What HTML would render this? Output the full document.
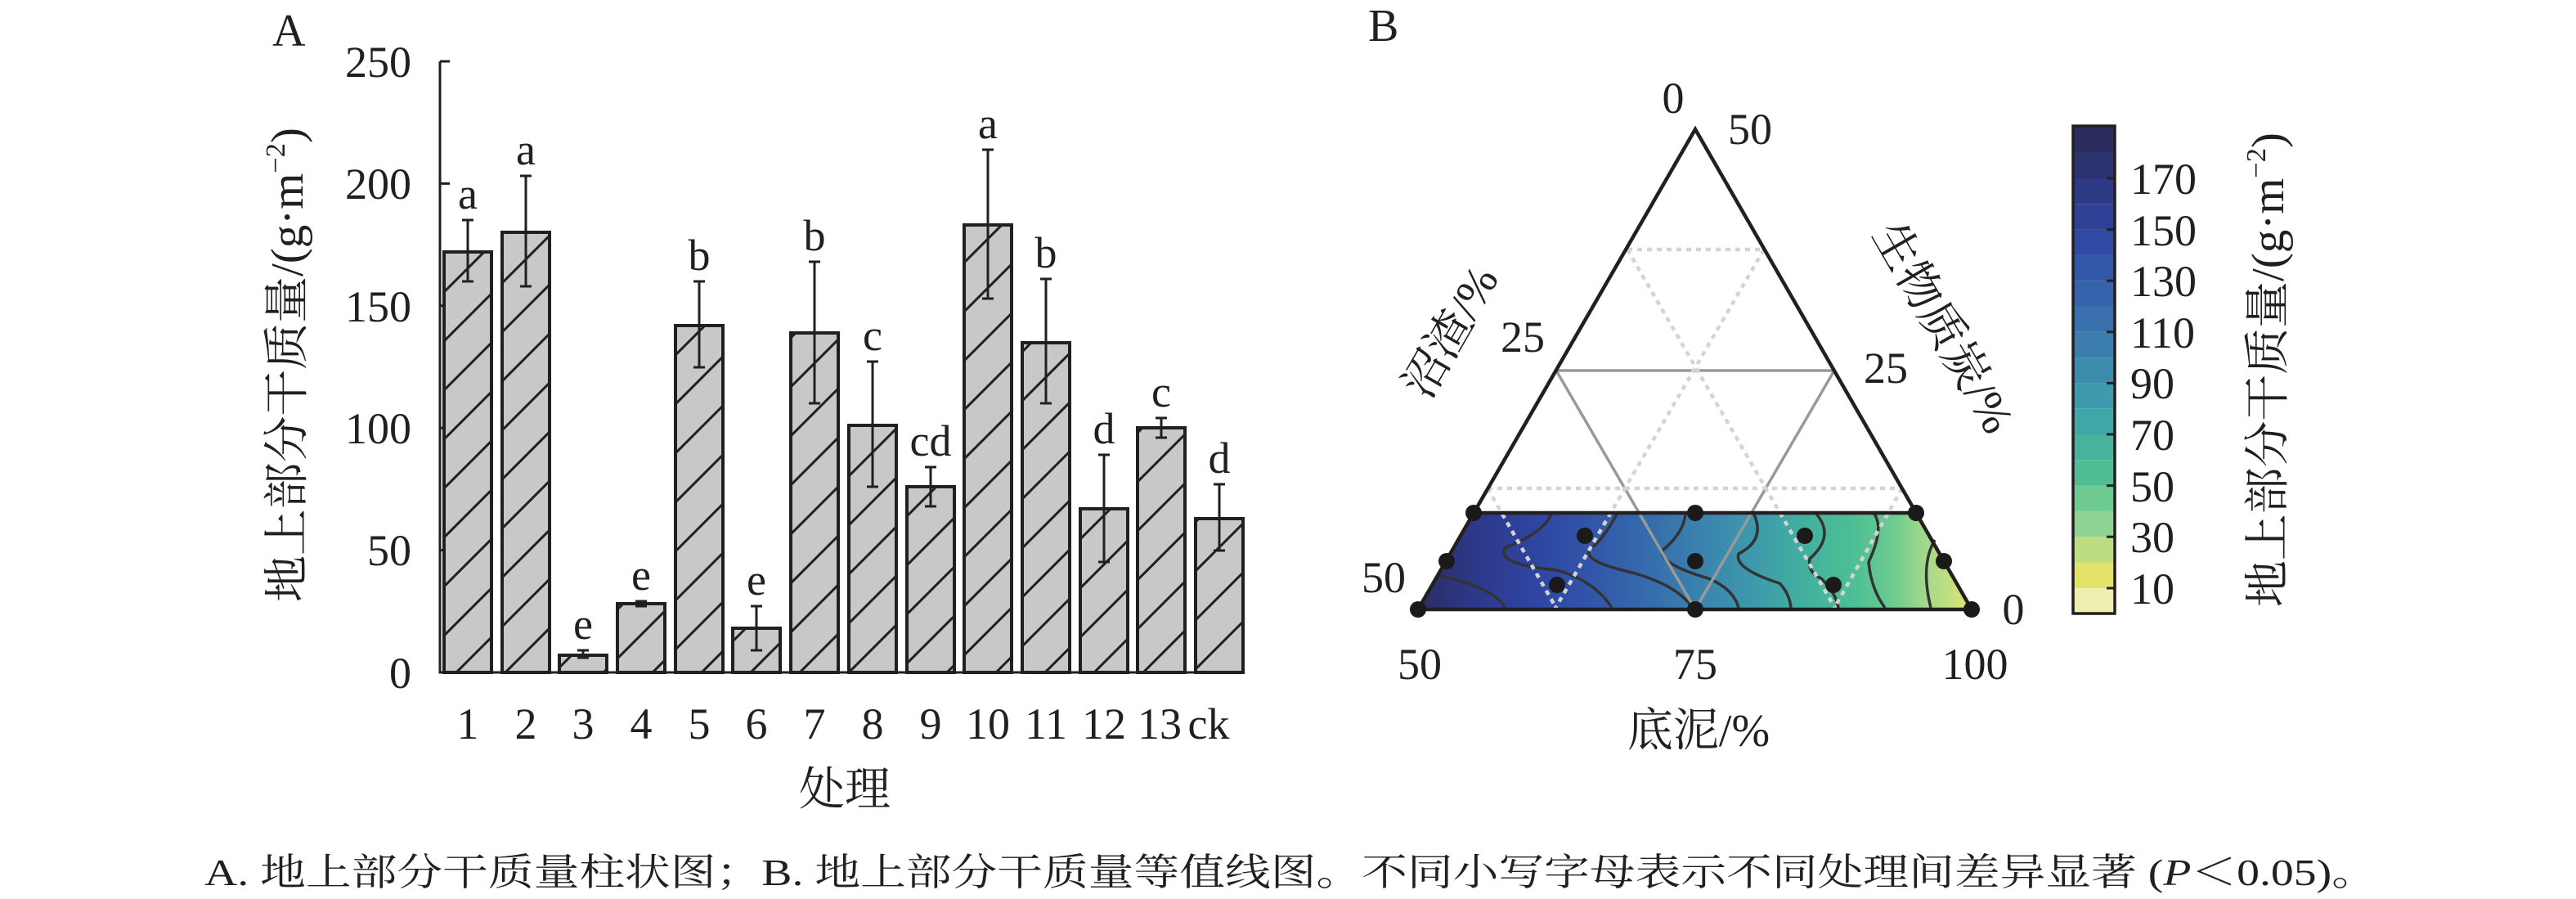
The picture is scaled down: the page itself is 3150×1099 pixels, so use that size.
<!DOCTYPE html>
<html><head><meta charset="utf-8"><style>
html,body{margin:0;padding:0;background:#fff}
svg{display:block}
text{font-family:"Liberation Serif","Noto Serif CJK SC",serif;fill:#231f20}
</style></head><body>
<svg width="3150" height="1099" viewBox="0 0 3150 1099" xmlns="http://www.w3.org/2000/svg">
<defs>
<pattern id="h" patternUnits="userSpaceOnUse" width="60" height="60">
<rect width="60" height="60" fill="#c8c8c8"/>
<path d="M0,60 L60,0 M-10,10 L10,-10 M50,70 L70,50" stroke="#231f20" stroke-width="3"/>
</pattern>
<linearGradient id="cg" x1="1734" y1="0" x2="2411" y2="0" gradientUnits="userSpaceOnUse">
<stop offset="0" stop-color="#2a2d60"/>
<stop offset="0.1" stop-color="#2d3887"/>
<stop offset="0.2" stop-color="#2e43a0"/>
<stop offset="0.32" stop-color="#3257a9"/>
<stop offset="0.43" stop-color="#366fac"/>
<stop offset="0.52" stop-color="#3b85ae"/>
<stop offset="0.61" stop-color="#3e9aab"/>
<stop offset="0.7" stop-color="#43b09f"/>
<stop offset="0.79" stop-color="#4ec093"/>
<stop offset="0.86" stop-color="#6fcb90"/>
<stop offset="0.92" stop-color="#a6d98a"/>
<stop offset="0.97" stop-color="#c9e07e"/>
<stop offset="1" stop-color="#e5e36a"/>
</linearGradient>
</defs>

<!-- Panel A -->
<text x="333" y="56" font-size="56">A</text>
<g stroke="#231f20" stroke-width="3" fill="none">
<path d="M538,75 L538,822 L1521,822"/>
<path d="M538,75 h12 M538,224.4 h12 M538,373.8 h12 M538,523.2 h12 M538,672.6 h12"/>
</g>
<g font-size="54" text-anchor="end">
<text x="503" y="94">250</text>
<text x="503" y="243">200</text>
<text x="503" y="393">150</text>
<text x="503" y="542">100</text>
<text x="503" y="691">50</text>
<text x="503" y="841">0</text>
</g>
<text transform="translate(370,446) rotate(-90)" font-size="56" text-anchor="middle" textLength="580" lengthAdjust="spacingAndGlyphs">地上部分干质量/(g·m<tspan font-size="34" dy="-22">−2</tspan><tspan dy="22">)</tspan></text>

<g stroke="#231f20" stroke-width="4" fill="url(#h)">
<rect x="543" y="308" width="58" height="514"/>
<rect x="614" y="284" width="58" height="538"/>
<rect x="684" y="801" width="58" height="21"/>
<rect x="755" y="738" width="58" height="84"/>
<rect x="826" y="398" width="58" height="424"/>
<rect x="896" y="768" width="58" height="54"/>
<rect x="967" y="407" width="58" height="415"/>
<rect x="1038" y="520" width="58" height="302"/>
<rect x="1109" y="595" width="58" height="227"/>
<rect x="1179" y="275" width="58" height="547"/>
<rect x="1250" y="419" width="58" height="403"/>
<rect x="1321" y="622" width="58" height="200"/>
<rect x="1391" y="523" width="58" height="299"/>
<rect x="1462" y="634" width="58" height="188"/>
</g>
<g stroke="#231f20" stroke-width="3" fill="none">
<path d="M572,269 V344 M565,269 h14 M565,344 h14"/>
<path d="M643,215 V350 M636,215 h14 M636,350 h14"/>
<path d="M713,795 V804 M706,795 h14 M706,804 h14"/>
<path d="M784,735 V741 M777,735 h14 M777,741 h14"/>
<path d="M855,344 V449 M848,344 h14 M848,449 h14"/>
<path d="M925,741 V795 M918,741 h14 M918,795 h14"/>
<path d="M996,320 V493 M989,320 h14 M989,493 h14"/>
<path d="M1067,442 V595 M1060,442 h14 M1060,595 h14"/>
<path d="M1138,571 V619 M1131,571 h14 M1131,619 h14"/>
<path d="M1208,183 V365 M1201,183 h14 M1201,365 h14"/>
<path d="M1279,341 V493 M1272,341 h14 M1272,493 h14"/>
<path d="M1350,556 V687 M1343,556 h14 M1343,687 h14"/>
<path d="M1420,511 V535 M1413,511 h14 M1413,535 h14"/>
<path d="M1491,592 V673 M1484,592 h14 M1484,673 h14"/>
</g>
<g font-size="54" text-anchor="middle">
<text x="572" y="255">a</text>
<text x="643" y="201">a</text>
<text x="713" y="781">e</text>
<text x="784" y="721">e</text>
<text x="855" y="330">b</text>
<text x="925" y="727">e</text>
<text x="996" y="306">b</text>
<text x="1067" y="428">c</text>
<text x="1138" y="557">cd</text>
<text x="1208" y="169">a</text>
<text x="1279" y="327">b</text>
<text x="1350" y="542">d</text>
<text x="1420" y="497">c</text>
<text x="1491" y="578">d</text>
</g>
<g font-size="54" text-anchor="middle">
<text x="572" y="903">1</text>
<text x="643" y="903">2</text>
<text x="713" y="903">3</text>
<text x="784" y="903">4</text>
<text x="855" y="903">5</text>
<text x="925" y="903">6</text>
<text x="996" y="903">7</text>
<text x="1067" y="903">8</text>
<text x="1138" y="903">9</text>
<text x="1208" y="903">10</text>
<text x="1279" y="903">11</text>
<text x="1350" y="903">12</text>
<text x="1418" y="903">13</text>
<text x="1478" y="903">ck</text>
</g>
<text x="1033" y="984" font-size="56" text-anchor="middle">处理</text>

<!-- Panel B -->
<text x="1673" y="50" font-size="56">B</text>
<path d="M1802,627 L2343,627 L2411,745 L1734,745 Z" fill="url(#cg)"/>
<g stroke="#333" stroke-width="3.5" fill="none">
<path d="M1759,703 Q1830,720 1840,743"/>
<path d="M1897,627 Q1890,650 1840,670 Q1830,690 1904,697 Q1950,710 1971,743"/>
<path d="M1978,627 Q1960,660 1946,670 Q1930,685 1996,700 Q2050,715 2070,743"/>
<path d="M2061,627 Q2060,650 2033,673 Q2030,690 2089,707 Q2120,720 2126,743"/>
<path d="M2144,627 Q2160,660 2126,677 Q2120,695 2176,713 Q2188,725 2190,743"/>
<path d="M2220,627 Q2245,655 2213,683 Q2210,700 2227,707 Q2245,725 2248,743"/>
<path d="M2291,627 Q2305,645 2285,687 Q2288,720 2305,743"/>
<path d="M2366,660 Q2348,690 2361,743"/>
</g>
<g stroke="#999" stroke-width="3.5" fill="none">
<path d="M1903,453 L2243,453 M1903,453 L2073,745 L2243,453"/>
</g>
<g stroke="#d4d4d4" stroke-width="4.5" stroke-dasharray="6,6" fill="none">
<path d="M1990,305 L2157,305"/>
<path d="M1819,597 L2326,597"/>
<path d="M1990,305 L2245,745"/>
<path d="M2157,305 L1901,745"/>
<path d="M1819,597 L1904,745"/>
<path d="M2326,597 L2242,745"/>
</g>
<g stroke="#231f20" stroke-width="4.5" fill="none">
<path d="M1734,745 L2073,158 L2411,745 Z"/>
<path d="M1802,627 L2343,627"/>
</g>
<g fill="#1a1a1a">
<circle cx="1802" cy="627" r="10"/><circle cx="2073" cy="627" r="10"/><circle cx="2343" cy="627" r="10"/>
<circle cx="1769" cy="686" r="10"/><circle cx="2377" cy="686" r="10"/>
<circle cx="1734" cy="745" r="10"/><circle cx="2073" cy="745" r="10"/><circle cx="2411" cy="745" r="10"/>
<circle cx="1938" cy="655" r="10"/><circle cx="2207" cy="655" r="10"/>
<circle cx="1904" cy="715" r="10"/><circle cx="2242" cy="715" r="10"/>
<circle cx="2073" cy="686" r="10"/>
</g>
<g font-size="54" text-anchor="middle">
<text x="2046" y="138">0</text>
<text x="2140" y="176">50</text>
<text x="1862" y="430">25</text>
<text x="2306" y="468">25</text>
<text x="1692" y="724">50</text>
<text x="2462" y="763">0</text>
<text x="1736" y="830">50</text>
<text x="2073" y="830">75</text>
<text x="2415" y="830">100</text>
</g>
<text x="2077" y="912" font-size="56" text-anchor="middle">底泥/%</text>
<text transform="translate(1790,415) rotate(-60)" font-size="56" text-anchor="middle">沼渣/%</text>
<text transform="translate(2360,410) rotate(60)" font-size="56" text-anchor="middle">生物质炭/%</text>

<!-- color bar -->
<g>
<rect x="2535" y="154" width="51" height="32" fill="#2c2d5f"/>
<rect x="2535" y="186" width="51" height="32" fill="#2c3370"/>
<rect x="2535" y="218" width="51" height="31.3" fill="#2d3a85"/>
<rect x="2535" y="249.3" width="51" height="31.3" fill="#2e4196"/>
<rect x="2535" y="280.6" width="51" height="31.3" fill="#2f4aa2"/>
<rect x="2535" y="311.9" width="51" height="31.3" fill="#3256a8"/>
<rect x="2535" y="343.2" width="51" height="31.3" fill="#3563ab"/>
<rect x="2535" y="374.5" width="51" height="31.3" fill="#3870ad"/>
<rect x="2535" y="405.8" width="51" height="31.3" fill="#3b7eae"/>
<rect x="2535" y="437.1" width="51" height="31.3" fill="#3d8cae"/>
<rect x="2535" y="468.4" width="51" height="31.3" fill="#3e9aac"/>
<rect x="2535" y="499.7" width="51" height="31.3" fill="#41a7a6"/>
<rect x="2535" y="531" width="51" height="31.3" fill="#46b49c"/>
<rect x="2535" y="562.3" width="51" height="31.3" fill="#4fbf93"/>
<rect x="2535" y="593.6" width="51" height="31.3" fill="#6dca90"/>
<rect x="2535" y="624.9" width="51" height="31.3" fill="#8ed392"/>
<rect x="2535" y="656.2" width="51" height="31.3" fill="#bcdd80"/>
<rect x="2535" y="687.5" width="51" height="31.5" fill="#e3e36a"/>
<rect x="2535" y="719" width="51" height="31" fill="#f0efb2"/>
<rect x="2535" y="154" width="51" height="596" fill="none" stroke="#231f20" stroke-width="3.5"/>
<g stroke="#231f20" stroke-width="3">
<path d="M2576,218h10 M2576,280.6h10 M2576,343.2h10 M2576,405.8h10 M2576,468.4h10 M2576,531h10 M2576,593.6h10 M2576,656.2h10 M2576,719h10"/>
</g>
</g>
<g font-size="54">
<text x="2605" y="237">170</text>
<text x="2605" y="300">150</text>
<text x="2605" y="362">130</text>
<text x="2605" y="425">110</text>
<text x="2605" y="487">90</text>
<text x="2605" y="550">70</text>
<text x="2605" y="613">50</text>
<text x="2605" y="675">30</text>
<text x="2605" y="738">10</text>
</g>
<text transform="translate(2792,452) rotate(-90)" font-size="56" text-anchor="middle" textLength="580" lengthAdjust="spacingAndGlyphs">地上部分干质量/(g·m<tspan font-size="34" dy="-22">−2</tspan><tspan dy="22">)</tspan></text>

<!-- caption -->
<text x="250" y="1082" font-size="46" textLength="2657" lengthAdjust="spacingAndGlyphs">A. 地上部分干质量柱状图；B. 地上部分干质量等值线图。不同小写字母表示不同处理间差异显著 (<tspan font-style="italic">P</tspan>＜0.05)。</text>
</svg>
</body></html>
